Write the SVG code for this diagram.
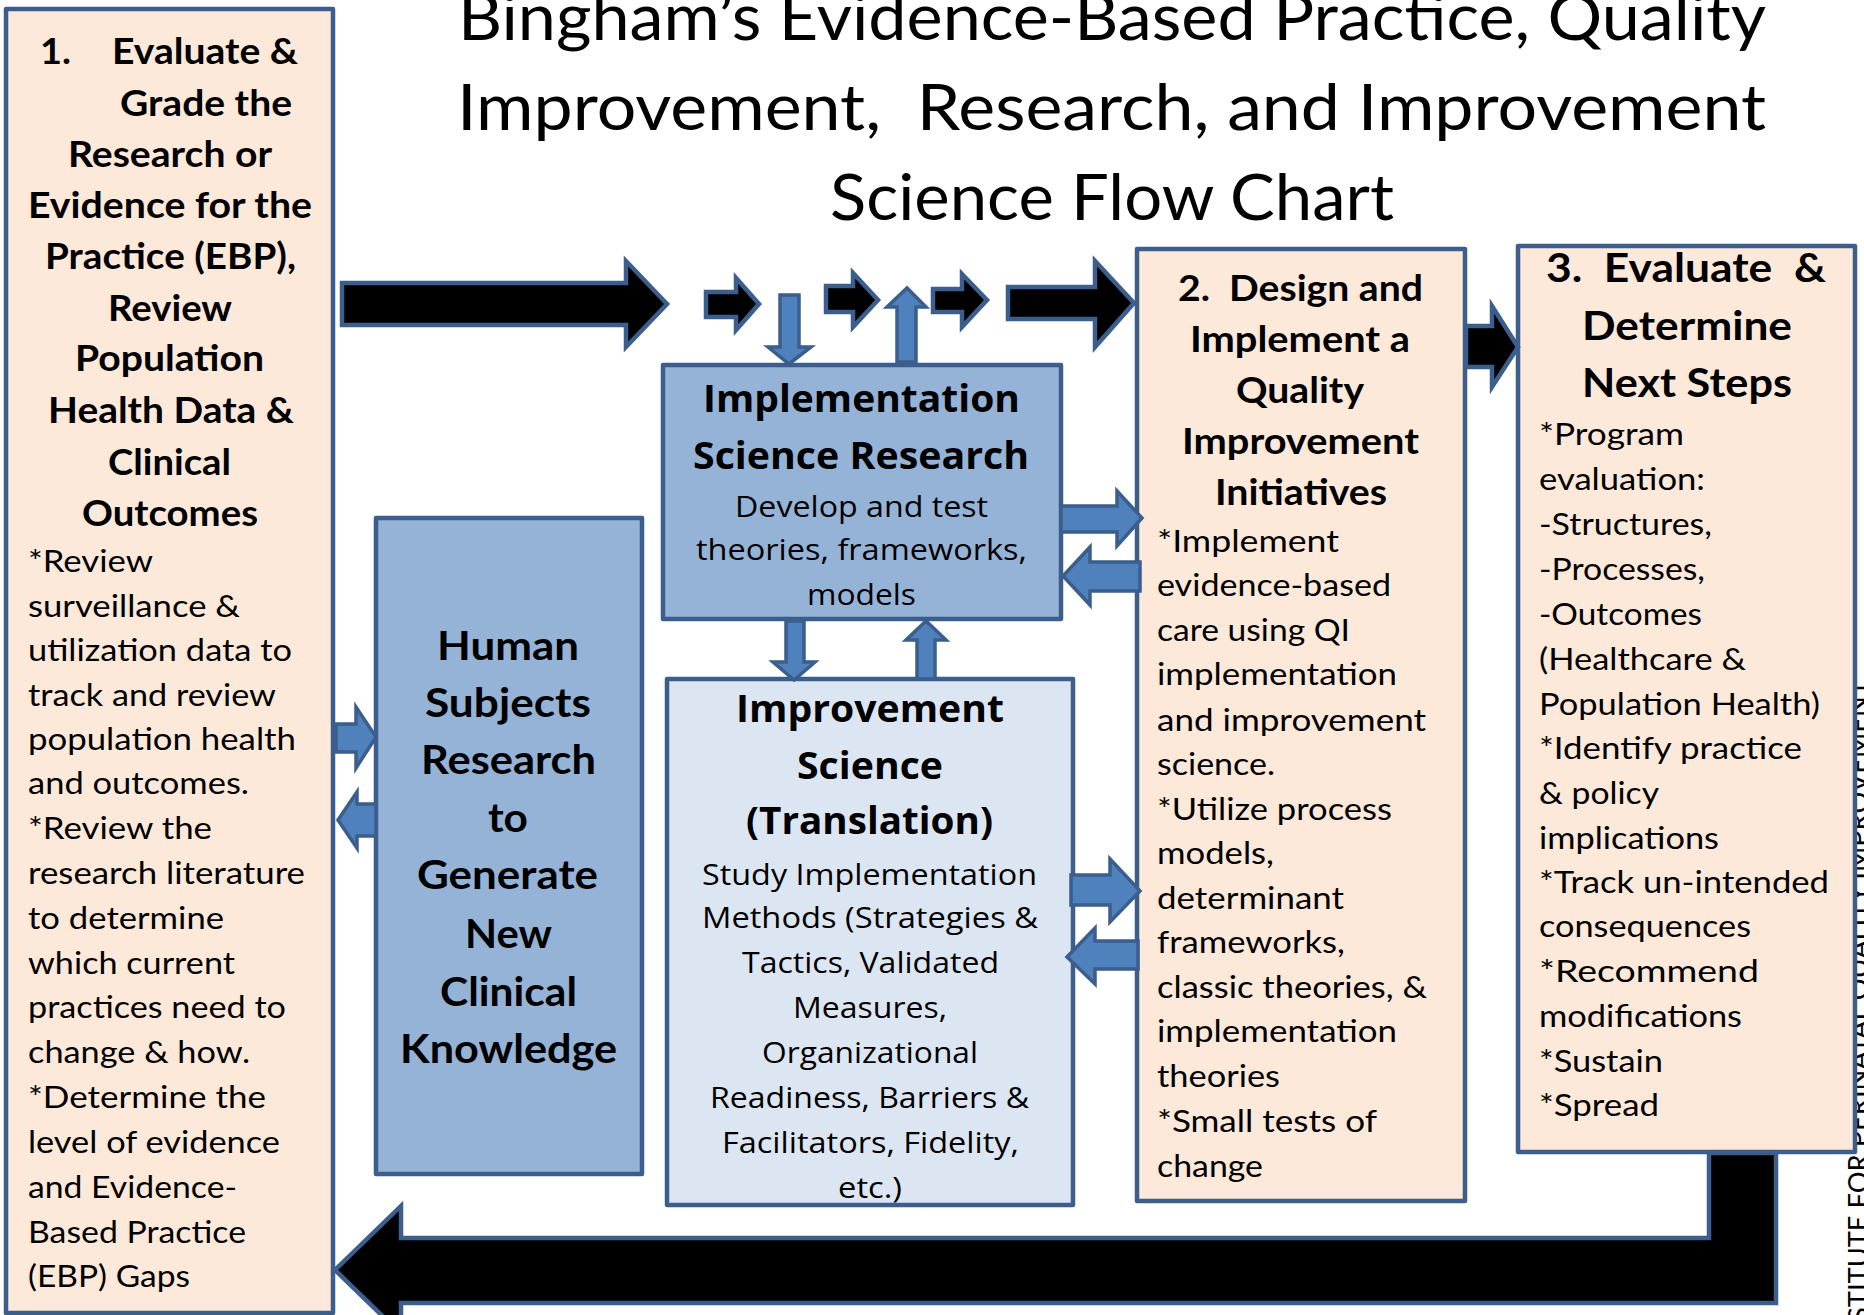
<svg xmlns="http://www.w3.org/2000/svg" width="1864" height="1315" viewBox="0 0 1864 1315">
<style>
text { font-family: Lato, "Open Sans", "Liberation Sans", sans-serif; fill: #000; }
.title { font-size: 64px; }
.hb { font-weight: 700; font-size: 36px; }
.hb2 { font-weight: 700; font-size: 40px; }
.bd { font-size: 31px; }
.cb { font-family: "Open Sans", Lato, "Liberation Sans", sans-serif; font-weight: 700; font-size: 38px; }
.cr { font-family: "Open Sans", Lato, "Liberation Sans", sans-serif; font-size: 29px; }
.side { font-size: 26px; }
.peach { fill: #FDE9D9; stroke: #3B5E8C; stroke-width: 4.5; stroke-linejoin: round; }
.blue { fill: #95B3D7; stroke: #3B5E8C; stroke-width: 4.5; stroke-linejoin: round; }
.pale { fill: #DCE6F2; stroke: #3B5E8C; stroke-width: 4.5; stroke-linejoin: round; }
.ka { fill: #000; stroke: #3B5E8C; stroke-width: 4.5; stroke-linejoin: miter; }
.ba { fill: #4F81BD; stroke: #3B5E8C; stroke-width: 3.5; stroke-linejoin: miter; }
</style>

<g id="side-label">
<text class="side" transform="translate(1868,1322) rotate(-90)" textLength="642" lengthAdjust="spacingAndGlyphs">STITUTE FOR PERINATAL QUALITY IMPROVEMENT</text>
</g>

<g id="title">
<text class="title" x="458" y="40" textLength="1308" lengthAdjust="spacingAndGlyphs">Bingham’s Evidence-Based Practice, Quality</text>
<text class="title" x="457" y="130" textLength="1309" lengthAdjust="spacingAndGlyphs" xml:space="preserve">Improvement,  Research, and Improvement</text>
<text class="title" x="830" y="220" textLength="564" lengthAdjust="spacingAndGlyphs">Science Flow Chart</text>
</g>

<g id="node-evaluate-grade">
<rect class="peach" x="6" y="9" width="327" height="1304"/>
<text class="hb" x="40" y="64" textLength="31" lengthAdjust="spacingAndGlyphs">1.</text>
<text class="hb" x="112" y="64" textLength="186" lengthAdjust="spacingAndGlyphs">Evaluate &amp;</text>
<text class="hb" x="120" y="116" textLength="172" lengthAdjust="spacingAndGlyphs">Grade the</text>
<text class="hb" x="68" y="167" textLength="204" lengthAdjust="spacingAndGlyphs">Research or</text>
<text class="hb" x="28" y="218" textLength="284" lengthAdjust="spacingAndGlyphs">Evidence for the</text>
<text class="hb" x="45" y="269" textLength="251" lengthAdjust="spacingAndGlyphs">Practice (EBP),</text>
<text class="hb" x="108" y="321" textLength="124" lengthAdjust="spacingAndGlyphs">Review</text>
<text class="hb" x="75" y="371" textLength="189" lengthAdjust="spacingAndGlyphs">Population</text>
<text class="hb" x="48" y="423" textLength="246" lengthAdjust="spacingAndGlyphs">Health Data &amp;</text>
<text class="hb" x="108" y="475" textLength="123" lengthAdjust="spacingAndGlyphs">Clinical</text>
<text class="hb" x="82" y="526" textLength="176" lengthAdjust="spacingAndGlyphs">Outcomes</text>
<text class="bd" x="28" y="572" textLength="125" lengthAdjust="spacingAndGlyphs">*Review</text>
<text class="bd" x="28" y="617" textLength="212" lengthAdjust="spacingAndGlyphs">surveillance &amp;</text>
<text class="bd" x="28" y="661" textLength="264" lengthAdjust="spacingAndGlyphs">utilization data to</text>
<text class="bd" x="28" y="706" textLength="248" lengthAdjust="spacingAndGlyphs">track and review</text>
<text class="bd" x="28" y="750" textLength="268" lengthAdjust="spacingAndGlyphs">population health</text>
<text class="bd" x="28" y="794" textLength="221" lengthAdjust="spacingAndGlyphs">and outcomes.</text>
<text class="bd" x="28" y="839" textLength="184" lengthAdjust="spacingAndGlyphs">*Review the</text>
<text class="bd" x="28" y="884" textLength="277" lengthAdjust="spacingAndGlyphs">research literature</text>
<text class="bd" x="28" y="929" textLength="196" lengthAdjust="spacingAndGlyphs">to determine</text>
<text class="bd" x="28" y="974" textLength="207" lengthAdjust="spacingAndGlyphs">which current</text>
<text class="bd" x="28" y="1018" textLength="258" lengthAdjust="spacingAndGlyphs">practices need to</text>
<text class="bd" x="28" y="1063" textLength="222" lengthAdjust="spacingAndGlyphs">change &amp; how.</text>
<text class="bd" x="28" y="1108" textLength="238" lengthAdjust="spacingAndGlyphs">*Determine the</text>
<text class="bd" x="28" y="1153" textLength="252" lengthAdjust="spacingAndGlyphs">level of evidence</text>
<text class="bd" x="28" y="1198" textLength="209" lengthAdjust="spacingAndGlyphs">and Evidence-</text>
<text class="bd" x="28" y="1243" textLength="218" lengthAdjust="spacingAndGlyphs">Based Practice</text>
<text class="bd" x="28" y="1287" textLength="162" lengthAdjust="spacingAndGlyphs">(EBP) Gaps</text>
</g>

<g id="node-design-implement">
<rect class="peach" x="1137" y="249" width="328" height="952"/>
<text class="hb" x="1178" y="301" textLength="245" lengthAdjust="spacingAndGlyphs" xml:space="preserve">2.  Design and</text>
<text class="hb" x="1190" y="352" textLength="220" lengthAdjust="spacingAndGlyphs">Implement a</text>
<text class="hb" x="1236" y="403" textLength="128" lengthAdjust="spacingAndGlyphs">Quality</text>
<text class="hb" x="1182" y="454" textLength="237" lengthAdjust="spacingAndGlyphs">Improvement</text>
<text class="hb" x="1215" y="505" textLength="172" lengthAdjust="spacingAndGlyphs">Initiatives</text>
<text class="bd" x="1157" y="552" textLength="182" lengthAdjust="spacingAndGlyphs">*Implement</text>
<text class="bd" x="1157" y="596" textLength="234" lengthAdjust="spacingAndGlyphs">evidence-based</text>
<text class="bd" x="1157" y="641" textLength="193" lengthAdjust="spacingAndGlyphs">care using QI</text>
<text class="bd" x="1157" y="685" textLength="240" lengthAdjust="spacingAndGlyphs">implementation</text>
<text class="bd" x="1157" y="731" textLength="269" lengthAdjust="spacingAndGlyphs">and improvement</text>
<text class="bd" x="1157" y="775" textLength="118" lengthAdjust="spacingAndGlyphs">science.</text>
<text class="bd" x="1157" y="820" textLength="235" lengthAdjust="spacingAndGlyphs">*Utilize process</text>
<text class="bd" x="1157" y="864" textLength="117" lengthAdjust="spacingAndGlyphs">models,</text>
<text class="bd" x="1157" y="909" textLength="187" lengthAdjust="spacingAndGlyphs">determinant</text>
<text class="bd" x="1157" y="953" textLength="188" lengthAdjust="spacingAndGlyphs">frameworks,</text>
<text class="bd" x="1157" y="998" textLength="270" lengthAdjust="spacingAndGlyphs">classic theories, &amp;</text>
<text class="bd" x="1157" y="1042" textLength="240" lengthAdjust="spacingAndGlyphs">implementation</text>
<text class="bd" x="1157" y="1087" textLength="123" lengthAdjust="spacingAndGlyphs">theories</text>
<text class="bd" x="1157" y="1132" textLength="220" lengthAdjust="spacingAndGlyphs">*Small tests of</text>
<text class="bd" x="1157" y="1177" textLength="106" lengthAdjust="spacingAndGlyphs">change</text>
</g>

<g id="node-evaluate-next-steps">
<rect class="peach" x="1518" y="246" width="337" height="906"/>
<text class="hb2" x="1546" y="282" textLength="280" lengthAdjust="spacingAndGlyphs" xml:space="preserve">3.  Evaluate  &amp;</text>
<text class="hb2" x="1582" y="340" textLength="210" lengthAdjust="spacingAndGlyphs">Determine</text>
<text class="hb2" x="1582" y="397" textLength="210" lengthAdjust="spacingAndGlyphs">Next Steps</text>
<text class="bd" x="1539" y="445" textLength="145" lengthAdjust="spacingAndGlyphs">*Program</text>
<text class="bd" x="1539" y="490" textLength="166" lengthAdjust="spacingAndGlyphs">evaluation:</text>
<text class="bd" x="1539" y="535" textLength="173" lengthAdjust="spacingAndGlyphs">-Structures,</text>
<text class="bd" x="1539" y="580" textLength="166" lengthAdjust="spacingAndGlyphs">-Processes,</text>
<text class="bd" x="1539" y="625" textLength="163" lengthAdjust="spacingAndGlyphs">-Outcomes</text>
<text class="bd" x="1539" y="670" textLength="207" lengthAdjust="spacingAndGlyphs">(Healthcare &amp;</text>
<text class="bd" x="1539" y="715" textLength="281" lengthAdjust="spacingAndGlyphs">Population Health)</text>
<text class="bd" x="1539" y="759" textLength="263" lengthAdjust="spacingAndGlyphs">*Identify practice</text>
<text class="bd" x="1539" y="804" textLength="120" lengthAdjust="spacingAndGlyphs">&amp; policy</text>
<text class="bd" x="1539" y="849" textLength="180" lengthAdjust="spacingAndGlyphs">implications</text>
<text class="bd" x="1539" y="893" textLength="290" lengthAdjust="spacingAndGlyphs">*Track un-intended</text>
<text class="bd" x="1539" y="937" textLength="212" lengthAdjust="spacingAndGlyphs">consequences</text>
<text class="bd" x="1539" y="982" textLength="220" lengthAdjust="spacingAndGlyphs">*Recommend</text>
<text class="bd" x="1539" y="1027" textLength="203" lengthAdjust="spacingAndGlyphs">modifications</text>
<text class="bd" x="1539" y="1072" textLength="124" lengthAdjust="spacingAndGlyphs">*Sustain</text>
<text class="bd" x="1539" y="1116" textLength="120" lengthAdjust="spacingAndGlyphs">*Spread</text>
</g>

<g id="node-implementation-science-research">
<rect class="blue" x="663" y="365" width="398" height="254"/>
<text class="cb" x="703" y="412" textLength="317" lengthAdjust="spacingAndGlyphs">Implementation</text>
<text class="cb" x="693" y="469" textLength="336" lengthAdjust="spacingAndGlyphs">Science Research</text>
<text class="cr" x="735" y="517" textLength="253" lengthAdjust="spacingAndGlyphs">Develop and test</text>
<text class="cr" x="696" y="560" textLength="331" lengthAdjust="spacingAndGlyphs">theories, frameworks,</text>
<text class="cr" x="807" y="605" textLength="109" lengthAdjust="spacingAndGlyphs">models</text>
</g>

<g id="node-improvement-science">
<rect class="pale" x="667" y="679" width="406" height="526"/>
<text class="cb" x="736" y="722" textLength="268" lengthAdjust="spacingAndGlyphs">Improvement</text>
<text class="cb" x="797" y="779" textLength="146" lengthAdjust="spacingAndGlyphs">Science</text>
<text class="cb" x="746" y="834" textLength="247" lengthAdjust="spacingAndGlyphs">(Translation)</text>
<text class="cr" x="702" y="885" textLength="335" lengthAdjust="spacingAndGlyphs">Study Implementation</text>
<text class="cr" x="702" y="928" textLength="336" lengthAdjust="spacingAndGlyphs">Methods (Strategies &amp;</text>
<text class="cr" x="742" y="973" textLength="257" lengthAdjust="spacingAndGlyphs">Tactics, Validated</text>
<text class="cr" x="793" y="1018" textLength="154" lengthAdjust="spacingAndGlyphs">Measures,</text>
<text class="cr" x="762" y="1063" textLength="216" lengthAdjust="spacingAndGlyphs">Organizational</text>
<text class="cr" x="710" y="1108" textLength="319" lengthAdjust="spacingAndGlyphs">Readiness, Barriers &amp;</text>
<text class="cr" x="722" y="1153" textLength="297" lengthAdjust="spacingAndGlyphs">Facilitators, Fidelity,</text>
<text class="cr" x="838" y="1198" textLength="64" lengthAdjust="spacingAndGlyphs">etc.)</text>
</g>

<g id="node-human-subjects">
<rect class="blue" x="376" y="518" width="266" height="656"/>
<text class="hb2" x="437" y="660" textLength="142" lengthAdjust="spacingAndGlyphs">Human</text>
<text class="hb2" x="425" y="717" textLength="166" lengthAdjust="spacingAndGlyphs">Subjects</text>
<text class="hb2" x="421" y="774" textLength="175" lengthAdjust="spacingAndGlyphs">Research</text>
<text class="hb2" x="488" y="832" textLength="40" lengthAdjust="spacingAndGlyphs">to</text>
<text class="hb2" x="417" y="889" textLength="181" lengthAdjust="spacingAndGlyphs">Generate</text>
<text class="hb2" x="465" y="948" textLength="87" lengthAdjust="spacingAndGlyphs">New</text>
<text class="hb2" x="440" y="1006" textLength="137" lengthAdjust="spacingAndGlyphs">Clinical</text>
<text class="hb2" x="400" y="1063" textLength="217" lengthAdjust="spacingAndGlyphs">Knowledge</text>
</g>

<g id="connectors">
<polygon class="ka" points="342,283 626,283 626,261 667,304 626,347 626,325 342,325"/>
<polygon class="ka" points="706,292 736,292 736,278 759,304 736,330 736,317 706,317"/>
<polygon class="ba" points="780,295 799,295 799,347 811,347 789,364 768,347 780,347"/>
<polygon class="ka" points="826,286 853,286 853,273 878,300 853,327 853,312 826,312"/>
<polygon class="ba" points="897,362 897,307 887,307 907,288 926,307 916,307 916,362"/>
<polygon class="ka" points="933,289 962,289 962,274 987,300 962,327 962,312 933,312"/>
<polygon class="ka" points="1008,287 1095,287 1095,261 1134,303 1095,347 1095,319 1008,319"/>
<polygon class="ka" points="1466,326 1492,326 1492,306 1518,347 1492,387 1492,367 1466,367"/>
<polygon class="ba" points="1061,506 1117,506 1117,491 1142,518 1117,546 1117,532 1061,532"/>
<polygon class="ba" points="1140,562 1090,562 1090,547 1063,576 1090,605 1090,591 1140,591"/>
<polygon class="ba" points="786,621 804,621 804,662 815,662 794,680 773,662 786,662"/>
<polygon class="ba" points="917,679 917,640 906,640 926,621 946,640 935,640 935,679"/>
<polygon class="ba" points="1071,875 1110,875 1110,859 1140,891 1110,922 1110,905 1071,905"/>
<polygon class="ba" points="1138,941 1095,941 1095,928 1067,957 1095,984 1095,969 1138,969"/>
<polygon class="ba" points="336,724 356,724 356,707 376,737 356,768 356,752 336,752"/>
<polygon class="ba" points="376,804 357,804 357,792 338,820 357,848 357,836 376,836"/>
<polygon class="ka" points="1709,1153 1709,1238 401,1238 401,1206 335,1270 401,1334 401,1303 1776,1303 1776,1153"/>
</g>
</svg>
